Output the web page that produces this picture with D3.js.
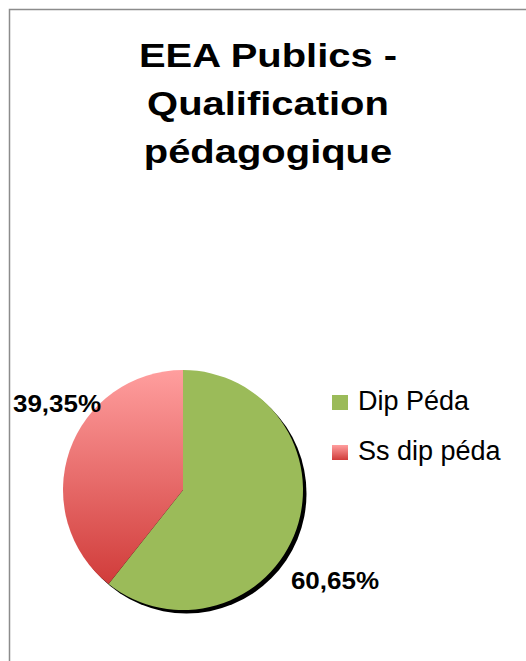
<!DOCTYPE html>
<html>
<head>
<meta charset="utf-8">
<script src="https://cdn.jsdelivr.net/npm/d3@7"></script>
<style>
  body { margin: 0; background: #fff; }
  svg { display: block; font-family: "Liberation Sans", Arial, sans-serif; }
</style>
</head>
<body>
<svg id="chart" width="526" height="661"></svg>
<script>
// data
const categories = ['Dip Péda', 'Ss dip péda'];
const values = [60.65, 39.35];
const labels = ['60,65%', '39,35%'];
const titleLines = ['EEA Publics -', 'Qualification', 'pédagogique'];

const svg = d3.select('#chart');

// stretch text horizontally like the original rendering
function stretch(sel, k) {
    sel.each(function() {
        const w = this.getComputedTextLength();
        d3.select(this)
            .attr('textLength', w * k)
            .attr('lengthAdjust', 'spacingAndGlyphs');
    });
}

// chart border (runs off the right and bottom)
svg.append('rect')
    .attr('x', 9.5).attr('y', 9.5)
    .attr('width', 600).attr('height', 700)
    .attr('fill', '#fff')
    .attr('stroke', '#8c8c8c')
    .attr('stroke-width', 1.5);

// title
svg.append('g').selectAll('text')
    .data(titleLines)
    .enter()
    .append('text')
    .attr('x', 268)
    .attr('y', (d, i) => 67 + i * 48)
    .attr('text-anchor', 'middle')
    .attr('font-size', 33)
    .attr('font-weight', 'bold')
    .text(d => d)
    .call(stretch, 1.21);

const defs = svg.append('defs');
const r = 120;
const grad = defs.append('linearGradient')
    .attr('id', 'redGrad')
    .attr('gradientUnits', 'userSpaceOnUse')
    .attr('x1', 0).attr('y1', -r).attr('x2', 0).attr('y2', r * 0.8);
grad.append('stop').attr('offset', '0%').attr('stop-color', '#ff9e9e');
grad.append('stop').attr('offset', '100%').attr('stop-color', '#d03b39');

const legGrad = defs.append('linearGradient')
    .attr('id', 'redGradLeg')
    .attr('x1', 0).attr('y1', 0).attr('x2', 0).attr('y2', 1);
legGrad.append('stop').attr('offset', '0%').attr('stop-color', '#ff9e9e');
legGrad.append('stop').attr('offset', '100%').attr('stop-color', '#d03b39');

const fills = d3.scaleOrdinal()
    .domain(categories)
    .range(['#9bbb59', 'url(#redGrad)']);
const legendFills = d3.scaleOrdinal()
    .domain(categories)
    .range(['#9bbb59', 'url(#redGradLeg)']);

const cx = 183, cy = 490;

const pie = d3.pie().sort(null).value(d => d.v);
const arcs = pie(categories.map((c, i) => ({c: c, v: values[i], label: labels[i]})));
const arc = d3.arc().innerRadius(0).outerRadius(r);

const g = svg.append('g').attr('transform', `translate(${cx},${cy})`);

// shadow
g.append('circle')
    .attr('cx', 3.5).attr('cy', 3.5)
    .attr('r', r)
    .attr('fill', '#000');

g.append('g').selectAll('path')
    .data(arcs)
    .enter()
    .append('path')
    .attr('d', arc)
    .attr('fill', d => fills(d.data.c));

// value labels
const labelPos = d3.scaleOrdinal()
    .domain(categories)
    .range([[152, 99], [-126, -78]]);
g.selectAll('text.val')
    .data(arcs)
    .enter()
    .append('text')
    .attr('class', 'val')
    .attr('x', d => labelPos(d.data.c)[0])
    .attr('y', d => labelPos(d.data.c)[1])
    .attr('text-anchor', 'middle')
    .attr('font-size', 23)
    .attr('font-weight', 'bold')
    .text(d => d.data.label)
    .call(stretch, 1.13);

// legend
const leg = svg.append('g').attr('transform', 'translate(332,395)');
const item = leg.selectAll('g')
    .data(categories)
    .enter()
    .append('g')
    .attr('transform', (d, i) => `translate(0,${i * 50})`);
item.append('rect')
    .attr('width', 16).attr('height', 15)
    .attr('fill', d => legendFills(d));
item.append('text')
    .attr('x', 26).attr('y', 15)
    .attr('font-size', 27)
    .text(d => d);
</script>
</body>
</html>
